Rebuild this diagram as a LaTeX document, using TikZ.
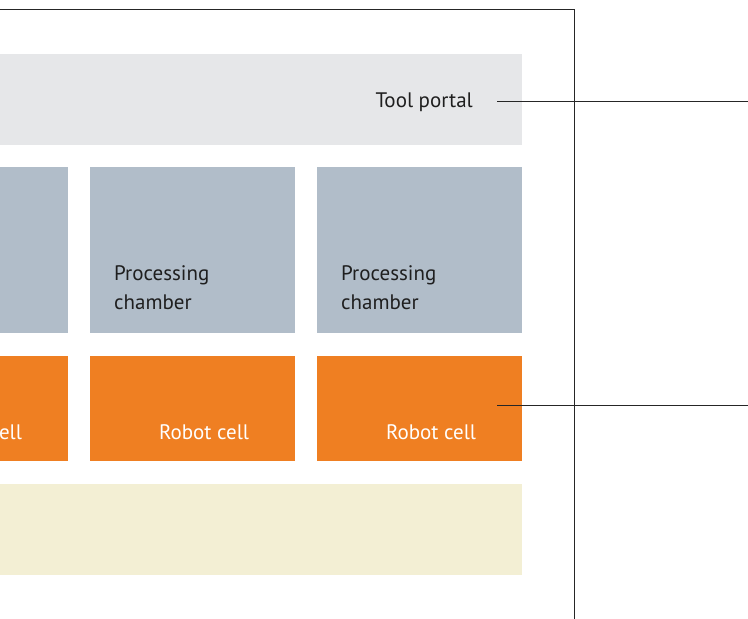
\documentclass[tikz,border=0pt]{standalone}
\usepackage{fontspec}
\setmainfont{PT Sans}
\definecolor{portalgray}{HTML}{E6E7E9}
\definecolor{chambergray}{HTML}{B1BDC9}
\definecolor{robotorange}{HTML}{EF7F22}
\definecolor{basebeige}{HTML}{F3EFD4}
\tikzset{
  lbl/.style={font=\fontsize{21}{29}\selectfont, inner sep=0pt, text=black!88},
  wlbl/.style={lbl, text=white},
  leader/.style={draw=black!85, line width=0.9pt},
  frame/.style={draw=black!85, line width=1pt}
}
\begin{document}
\begin{tikzpicture}[x=1pt,y=-1pt]
\useasboundingbox (0,0) rectangle (748,619);
\clip (0,0) rectangle (748,619);
% outer housing frame
\draw[frame] (-5,9) -- (574,9) -- (574,625);
% tool portal band
\fill[portalgray] (-5,54) rectangle (522,145);
\node[lbl, anchor=base east] (portal) at (473,107) {Tool portal};
% processing chambers
\foreach \x in {-137,90,317} {
  \fill[chambergray] (\x,167) rectangle ++(205,166);
}
\node[lbl, anchor=base west, align=left] (pc2) at (114,309) {Processing\\chamber};
\node[lbl, anchor=base west, align=left] (pc3) at (341,309) {Processing\\chamber};
% robot cells
\foreach \x [count=\i] in {-137,90,317} {
  \fill[robotorange] (\x,356) rectangle ++(205,105);
  \node[wlbl, anchor=base] (rc\i) at (\x+114,439) {Robot cell};
}
% base band
\fill[basebeige] (-5,484) rectangle (522,575);
% leader lines
\coordinate (portalstart) at (497,101);
\coordinate (portalend) at (748,101);
\coordinate (robotstart) at (497,405);
\coordinate (robotend) at (748,405);
\draw[leader] (portalstart) -- (portalend);
\draw[leader] (robotstart) -- (robotend);
\end{tikzpicture}
\end{document}
